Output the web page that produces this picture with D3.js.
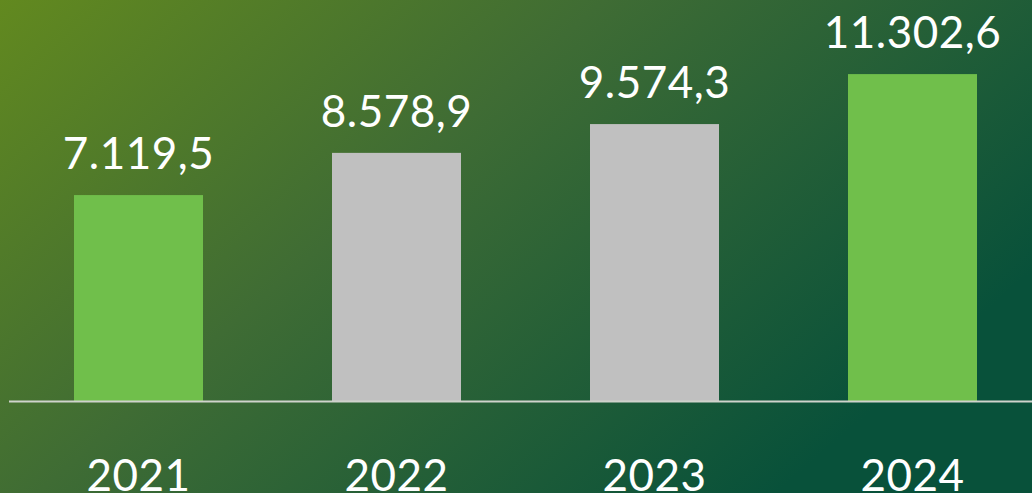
<!DOCTYPE html>
<html>
<head>
<meta charset="utf-8">
<script src="https://cdn.jsdelivr.net/npm/d3@7"></script>
<style>
  html, body { margin: 0; padding: 0; overflow: hidden; }
  svg { display: block; }
</style>
</head>
<body>
<div id="vis"></div>
<script>
var years = ["2021", "2022", "2023", "2024"];
var values = [7119.5, 8578.9, 9574.3, 11302.6];
var labels = ["7.119,5", "8.578,9", "9.574,3", "11.302,6"];
var barColors = ["#70bf4b", "#c0c0c0", "#c0c0c0", "#70bf4b"];

var width = 1032;
var height = 493;
var baseY = 401;

var svg = d3.select("#vis")
  .append("svg")
  .attr("width", width)
  .attr("height", height);

var grad = svg.append("defs").append("linearGradient")
  .attr("id", "bg")
  .attr("x1", 0).attr("y1", 0)
  .attr("x2", 1).attr("y2", 0.55);
grad.append("stop").attr("offset", 0).attr("stop-color", "#62891f");
grad.append("stop").attr("offset", 0.45).attr("stop-color", "#3f6c34");
grad.append("stop").attr("offset", 1).attr("stop-color", "#08513a");

svg.append("rect")
  .attr("width", width)
  .attr("height", height)
  .attr("fill", "url(#bg)");

var x = d3.scaleBand()
  .domain(years)
  .range([9.5, 1041.5])
  .paddingInner(0.5)
  .paddingOuter(0.25);

var y = d3.scaleLinear()
  .domain([0, 13000])
  .range([baseY, 25]);

var data = years.map(function(d, i) {
  return { year: d, value: values[i], label: labels[i], color: barColors[i] };
});

svg.selectAll(".bar")
  .data(data).enter()
  .append("rect")
  .attr("class", "bar")
  .attr("x", function(d) { return x(d.year); })
  .attr("y", function(d) { return y(d.value); })
  .attr("width", x.bandwidth())
  .attr("height", function(d) { return baseY - y(d.value); })
  .attr("fill", function(d) { return d.color; });

svg.append("line")
  .attr("x1", 9).attr("x2", width)
  .attr("y1", baseY + 0.5).attr("y2", baseY + 0.5)
  .attr("stroke", "#cfd3cc")
  .attr("stroke-width", 2);

svg.selectAll(".val")
  .data(data).enter()
  .append("text")
  .attr("class", "val")
  .attr("x", function(d) { return x(d.year) + x.bandwidth() / 2; })
  .attr("y", function(d) { return y(d.value) - 26; })
  .attr("text-anchor", "middle")
  .attr("fill", "#ffffff")
  .style("font-family", "Lato, sans-serif")
  .style("font-size", "44px")
  .style("letter-spacing", "0.5px")
  .text(function(d) { return d.label; });

svg.selectAll(".year")
  .data(data).enter()
  .append("text")
  .attr("class", "year")
  .attr("x", function(d) { return x(d.year) + x.bandwidth() / 2; })
  .attr("y", 491)
  .attr("text-anchor", "middle")
  .attr("fill", "#ffffff")
  .style("font-family", "Lato, sans-serif")
  .style("font-size", "44px")
  .style("letter-spacing", "0.5px")
  .text(function(d) { return d.year; });
</script>
</body>
</html>
